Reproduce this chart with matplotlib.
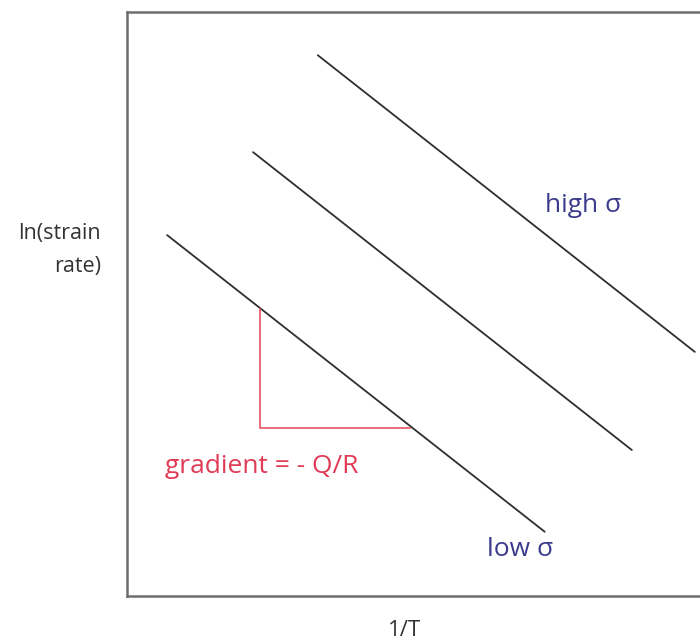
import matplotlib
matplotlib.use("Agg")
import matplotlib.pyplot as plt

# Arrhenius-style lines: ln(strain rate) against 1/T for three stress levels
line_labels = ["low σ", "mid σ", "high σ"]
line_x = [[0.70, 7.29], [2.20, 8.81], [3.33, 9.91]]
line_y = [[6.18, 1.10], [7.60, 2.50], [9.26, 4.18]]

# slope triangle under the low-stress line
tri_x = [2.32, 2.32, 4.94]
tri_y = [4.91, 2.88, 2.88]

plt.rcParams["font.family"] = ["Open Sans", "DejaVu Sans"]

fig = plt.figure(figsize=(7, 6.42), dpi=100)
ax = fig.add_axes([127 / 700, 46 / 642, 573 / 700, 584 / 642])
ax.set_xlim(0, 10)
ax.set_ylim(0, 10)

for xs, ys in zip(line_x, line_y):
    ax.plot(xs, ys, color="#2e2e2e", lw=1.3, solid_capstyle="round")

ax.plot(tri_x, tri_y, color="#e8506a", lw=1.2)

ax.text(0.66, 2.22, "gradient = - Q/R", color="#e03a55", fontsize=19, va="center")
ax.text(6.28, 0.80, line_labels[0], color="#3b3b8c", fontsize=19, va="center")
ax.text(7.29, 6.69, line_labels[2], color="#3b3b8c", fontsize=19, va="center")

ax.set_xticks([])
ax.set_yticks([])
for side in ["left", "bottom", "top"]:
    ax.spines[side].set_color("#6e6e6e")
    ax.spines[side].set_linewidth(1.8)
ax.spines["right"].set_visible(False)

fig.text(101 / 700, 1 - 250 / 642, "ln(strain\nrate)", ha="right", va="center",
         fontsize=15.5, color="#333333", linespacing=1.7)
fig.text(405 / 700, 1 - 631 / 642, "1/T", ha="center", va="center",
         fontsize=16, color="#333333")

fig.savefig("out.png", dpi=100, facecolor="white")
